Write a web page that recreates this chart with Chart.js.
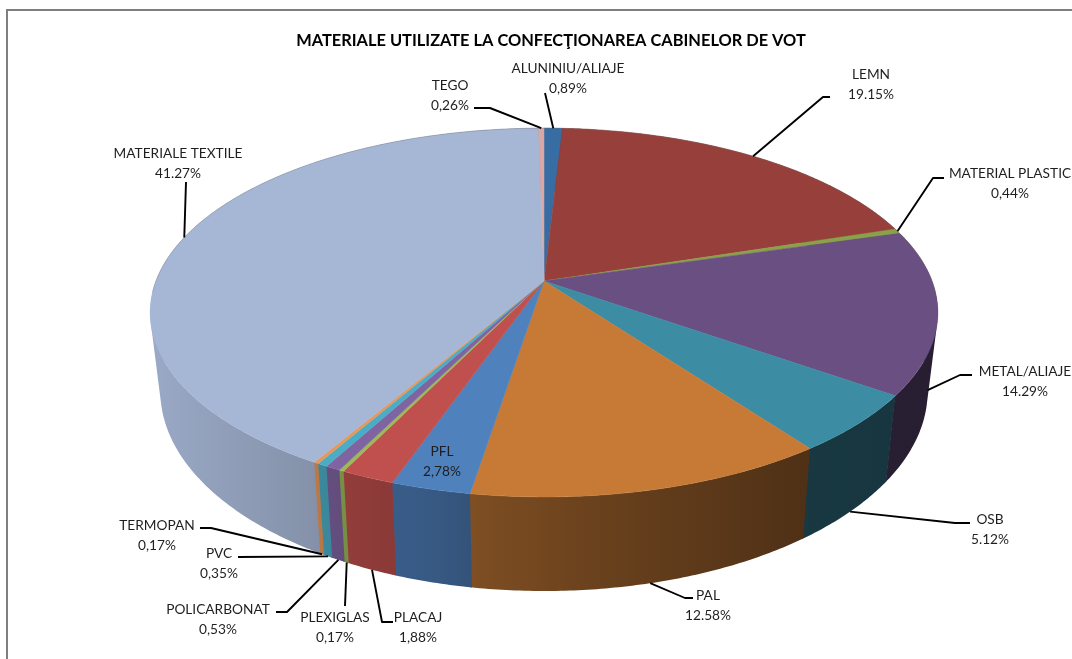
<!DOCTYPE html>
<html><head><meta charset="utf-8">
<style>html,body{margin:0;padding:0;background:#fff}canvas{display:block}</style>
<script src="https://cdn.jsdelivr.net/npm/chart.js@4"></script>
</head><body><canvas id="c" width="1072" height="659"></canvas>
<script>
const chartTitle = 'MATERIALE UTILIZATE LA CONFECŢIONAREA CABINELOR DE VOT';
const categories = ['ALUNINIU/ALIAJE','LEMN','MATERIAL PLASTIC','METAL/ALIAJE','OSB','PAL','PFL','PLACAJ','PLEXIGLAS','POLICARBONAT','PVC','TERMOPAN','MATERIALE TEXTILE','TEGO'];
const values = [0.89,19.15,0.44,14.29,5.12,12.58,2.78,1.88,0.17,0.53,0.35,0.17,41.27,0.26];
const valueLabels = ['0,89%','19.15%','0,44%','14.29%','5.12%','12.58%','2,78%','1,88%','0,17%','0,53%','0,35%','0,17%','41.27%','0,26%'];
const colors = ['#376da3','#963f3b','#8aa04a','#6a4f82','#3c8ca4','#c77a36','#4f81bd','#c0504d','#9bbb59','#8064a2','#4bacc6','#e8975a','#a6b6d5','#d9a8a6'];

// layout only: label centres and leader elbows
const labelPos = [[568,69],[871,75],[1010,174],[1025,372],[990,520],[708,596],[442,452],[418,618],[335,618],[218,610],[219,554],[157,526],[178,154],[450,86]];
const elbows = [[],[[823,97],[830,97]],[[933,178],[944,178]],[[960,375],[972,375]],[[955,523],[970,523]],[[685,598],[693,598]],null,[[382,622],[393,622]],[[345,606]],[[287,612],[276,612]],[[238,557]],[[211,528],[200,528]],[[186,182]],[[490,108],[474,108]]];
const leaderEnds = [[545,93],null,null,null,null,null,null,null,null,null,null,null,null,null];
const onBottomRim = [0,0,0,1,1,1,0,1,1,1,1,1,0,0];

const top3d = {cx:544, cy:281, a:388, b:179, k:0.171};
const bot3d = {cx:544, cy:357, a:378, b:194, k:0.171};
const shadeX = [150,310,370,430,480,600,800,930];
const shadeF = [0.93,0.80,0.74,0.70,0.63,0.53,0.40,0.38];

function project(p, ang){
  const ux=Math.cos(ang), uy=Math.sin(ang), d=1-p.k*uy;
  return [p.cx+p.a*ux/d, p.cy+p.b*uy/d];
}
function shade(hex,f){
  const n=parseInt(hex.slice(1),16);
  return `rgb(${Math.round((n>>16&255)*f)},${Math.round((n>>8&255)*f)},${Math.round((n&255)*f)})`;
}
function arcPts(p,s,e){
  const n=Math.max(2,Math.ceil((e-s)/0.01)), r=[];
  for(let i=0;i<=n;i++) r.push(project(p,s+(e-s)*i/n));
  return r;
}
function addQuad(c,q){
  let area=0;
  q.forEach((p,i)=>{const n=q[(i+1)%4]; area+=p[0]*n[1]-n[0]*p[1];});
  const o=area<0?q.slice().reverse():q;
  o.forEach((p,i)=>i?c.lineTo(p[0],p[1]):c.moveTo(p[0],p[1]));
  c.closePath();
}
const pie3d = {
  id:'pie3d',
  beforeDraw(chart){
    const c=chart.ctx; c.save();
    c.fillStyle='#fff'; c.fillRect(0,0,chart.width,chart.height);
    c.strokeStyle='#7f7f7f'; c.lineWidth=2;
    c.beginPath(); c.moveTo(7,659); c.lineTo(7,10); c.lineTo(1072,10); c.stroke();
    c.restore();
  },
  beforeDatasetsDraw(chart){
    const c=chart.ctx, arcs=chart.getDatasetMeta(0).data;
    c.save();
    // side wall: one path per slice, made of strips between matching rim points
    arcs.forEach((el,i)=>{
      const last=shadeX.length-1, w=shadeX[last]-shadeX[0];
      const g=c.createLinearGradient(shadeX[0],0,shadeX[last],0);
      shadeX.forEach((x,j)=>g.addColorStop((x-shadeX[0])/w,shade(colors[i],shadeF[j])));
      const t=arcPts(top3d,el.startAngle,el.endAngle+0.003), b=arcPts(bot3d,el.startAngle,el.endAngle+0.003);
      c.fillStyle=g;
      c.beginPath();
      for(let j=0;j<t.length-1;j++) addQuad(c,[t[j],t[j+1],b[j+1],b[j]]);
      c.fill();
    });
    // top face
    arcs.forEach((el,i)=>{
      const t=arcPts(top3d,el.startAngle,el.endAngle);
      c.beginPath(); c.moveTo(top3d.cx,top3d.cy);
      t.forEach(q=>c.lineTo(q[0],q[1]));
      c.closePath(); c.fillStyle=colors[i]; c.strokeStyle=colors[i]; c.lineWidth=0.5; c.fill(); c.stroke();
    });
    // rim
    c.strokeStyle='rgba(120,120,120,0.3)'; c.lineWidth=1;
    c.beginPath();
    arcPts(top3d,Math.PI*0.98,Math.PI*2.02).forEach((q,j)=>j?c.lineTo(q[0],q[1]):c.moveTo(q[0],q[1]));
    c.stroke();
    c.restore();
    return false;
  },
  afterDraw(chart){
    const c=chart.ctx, arcs=chart.getDatasetMeta(0).data;
    c.save();
    c.strokeStyle='#000'; c.lineWidth=1.9; c.lineJoin='round';
    arcs.forEach((el,i)=>{
      if(!elbows[i]) return;
      const mid=(el.startAngle+el.endAngle)/2;
      const a=project(onBottomRim[i]?bot3d:top3d,mid);
      c.beginPath(); c.moveTo(a[0],a[1]);
      elbows[i].forEach(q=>c.lineTo(q[0],q[1]));
      if(leaderEnds[i]) c.lineTo(leaderEnds[i][0],leaderEnds[i][1]);
      c.stroke();
    });
    c.fillStyle='#1f1f1f'; c.font='13.7px Lato'; c.textAlign='center'; c.textBaseline='middle';
    categories.forEach((n,i)=>{
      c.fillText(n,labelPos[i][0],labelPos[i][1]);
      c.fillText(valueLabels[i],labelPos[i][0],labelPos[i][1]+20);
    });
    c.restore();
  }
};
new Chart(document.getElementById('c'),{
  type:'pie',
  data:{labels:categories,datasets:[{data:values,backgroundColor:colors}]},
  options:{
    responsive:false,animation:false,
    layout:{padding:{left:30,top:31,right:0,bottom:0}},
    plugins:{
      legend:{display:false},tooltip:{enabled:false},
      title:{display:true,text:chartTitle,color:'#000',font:{family:'Lato',size:16.4,weight:'bold'},padding:{top:0,bottom:0}}
    }
  },
  plugins:[pie3d]
});
</script></body></html>
